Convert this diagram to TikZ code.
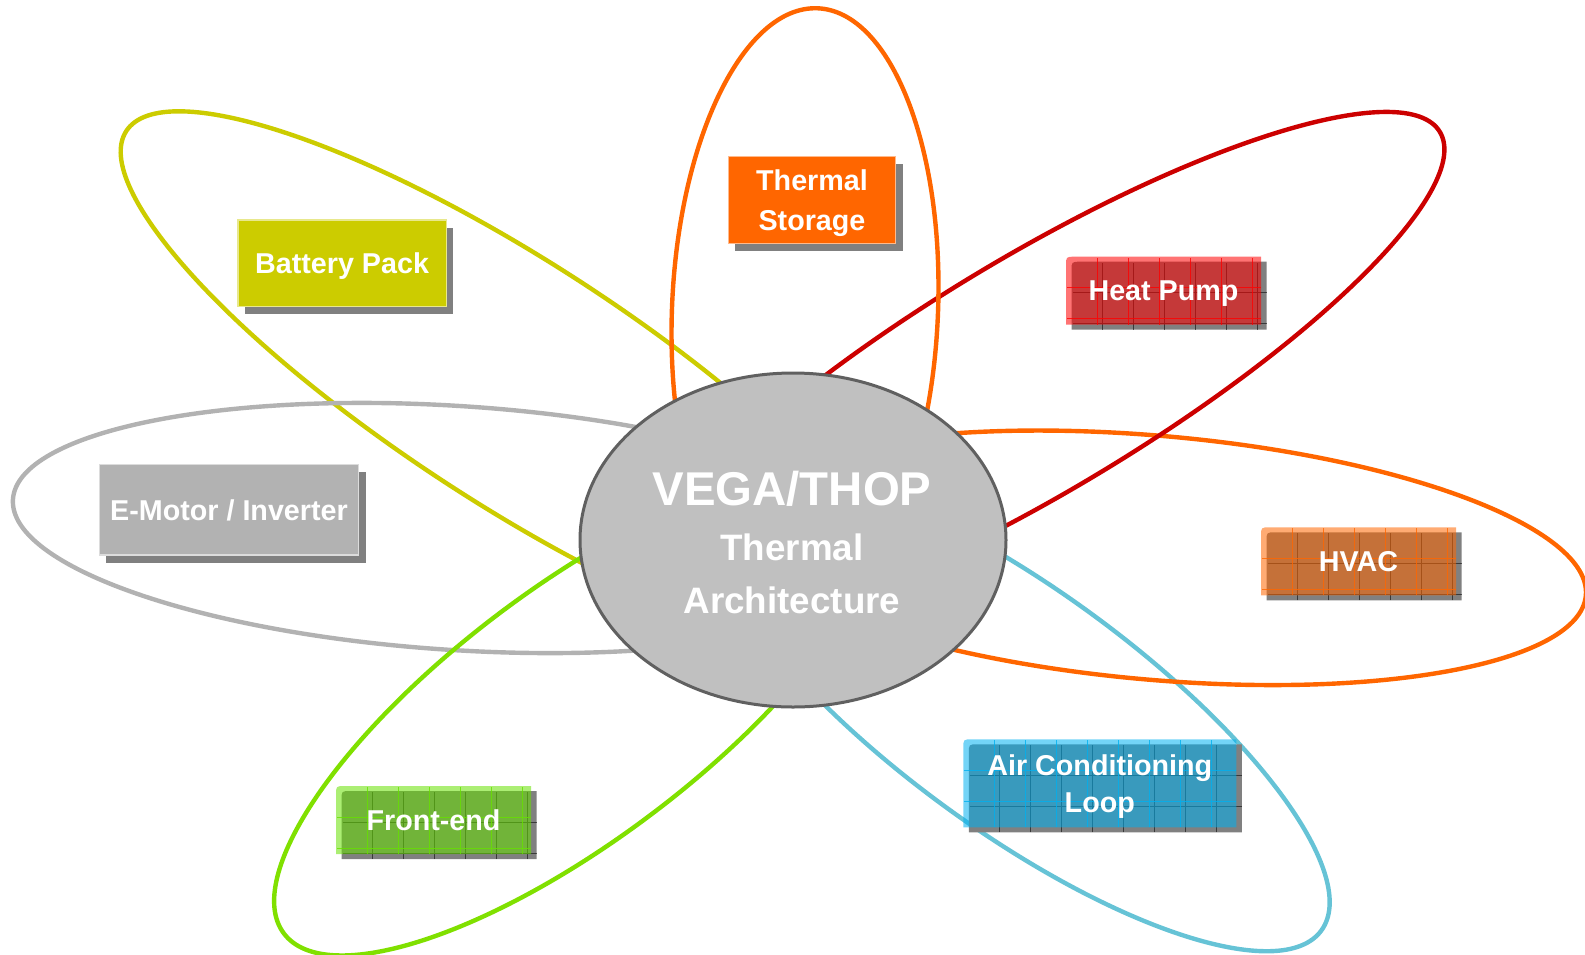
\documentclass[tikz,border=0pt]{standalone}
\usepackage{fontspec}
\newfontfamily\tilesans{Liberation Sans}
\usetikzlibrary{shapes.geometric,shadows}

\definecolor{hubgrey}{HTML}{C0C0C0}
\definecolor{hubrim}{HTML}{606060}
\definecolor{storeorange}{HTML}{FF6600}
\definecolor{batteryolive}{HTML}{CCCC00}
\definecolor{motorgrey}{HTML}{B2B2B2}
\definecolor{pumpred}{HTML}{CC0000}
\definecolor{loopcyan}{HTML}{66C3D6}
\definecolor{frontlime}{HTML}{80E000}
\definecolor{shadowgrey}{HTML}{808080}
% tints laid over the gridded tiles
\definecolor{pumptint}{HTML}{FF0000}
\definecolor{hvactint}{HTML}{FF6600}
\definecolor{looptint}{HTML}{00B0F0}
\definecolor{fronttint}{HTML}{66E000}

\tikzset{
  petal/.style={draw=#1, line width=2.2pt, ellipse, inner sep=0pt, outer sep=0pt},
  hub/.style={ellipse, fill=hubgrey, draw=hubrim, line width=1.5pt,
    minimum width=213pt, minimum height=167pt, inner sep=0pt},
  hubtext/.style={text=white, anchor=base, inner sep=0pt,
    font=\tilesans\bfseries\fontsize{#1}{#1}\selectfont},
  flatbox/.style={fill=#1, draw=#1!45!white, line width=.6pt, text=white,
    align=center, inner sep=0pt, text depth=0pt,
    font=\tilesans\bfseries\fontsize{14.35}{19.6}\selectfont,
    drop shadow={shadow xshift=3.5pt, shadow yshift=-3.75pt, fill=shadowgrey, opacity=1}},
  tileback/.style={fill=shadowgrey},
  backgrid/.style={draw=black, opacity=.55, line width=.5pt, step=15.5pt},
  tilegrid/.style={draw=#1, opacity=.8, line width=.5pt, step=15.5pt},
  tiletext/.style={text=white, align=center, inner sep=0pt, text depth=0pt,
    font=\tilesans\bfseries\fontsize{14.35}{18.65}\selectfont},
}

\begin{document}
\begin{tikzpicture}[x=0.5pt, y=-0.5pt]
    \useasboundingbox (0,0) rectangle (1585,954);

    %Petales autour du centre
    \node[petal=batteryolive, minimum width=463pt, minimum height=121pt, rotate=-33] (batteryloop) at (514.6,383.2) {};
    \node[petal=motorgrey, minimum width=444pt, minimum height=122pt, rotate=-3.7] (motorloop) at (456,528) {};
    \node[petal=frontlime, minimum width=365pt, minimum height=126pt, rotate=37] (frontloop) at (575.4,713.8) {};
    \node[petal=loopcyan, minimum width=375pt, minimum height=121pt, rotate=-36] (acloop) at (1018,710) {};
    \node[petal=storeorange, minimum width=432pt, minimum height=122pt, rotate=-5] (hvacloop) at (1155.5,557.8) {};
    \node[petal=pumpred, minimum width=470pt, minimum height=117pt, rotate=31] (pumploop) at (1037,374) {};
    \node[petal=storeorange, minimum width=133pt, minimum height=302pt, rotate=-2.4] (storeloop) at (805,310) {};

    %Boites pleines
    \node[flatbox=storeorange, minimum width=83.7pt, minimum height=43.3pt] (storage) at (812,200) {Thermal\\Storage};
    \node[flatbox=batteryolive, minimum width=104.1pt, minimum height=43.35pt] (battery) at (342.1,263.4) {Battery Pack};
    \node[flatbox=motorgrey, minimum width=129.7pt, minimum height=45.35pt] (motor) at (229,509.7) {E-Motor / Inverter};

    %Boites quadrillees
    \foreach \tname/\tx/\ty/\tw/\th/\tcol/\ttext in {
        heatpump/1066/256.7/195/68/pumptint/{Heat Pump},
        hvac/1261/527.3/195/68/hvactint/{HVAC},
        aircon/963.3/739.3/273/88/looptint/{Air Conditioning\\Loop},
        frontend/336/786/195/68/fronttint/{Front-end}}
    {
        \begin{scope}[shift={(\tx+5.5,\ty+5)}]
            \fill[tileback] (0,9) .. controls (0,0) .. (9,0) -- (\tw,0) -- (\tw,\th) -- (0,\th) -- cycle;
            \draw[backgrid] (1,\th) grid (\tw,1);
        \end{scope}
        \begin{scope}[shift={(\tx,\ty)}]
            \fill[fill=\tcol, fill opacity=.55] (0,9) .. controls (0,0) .. (9,0) -- (\tw,0) -- (\tw,\th) -- (0,\th) -- cycle;
            \draw[tilegrid=\tcol] (1,\th) grid (\tw,1);
        \end{scope}
        \node[tiletext] (\tname) at ({\tx+\tw/2},{\ty+\th/2}) {\ttext};
    }

    %Centre
    \node[hub] (hub) at (793,540) {};
    \node[hubtext=23.7] (hubname) at (792,505) {VEGA/THOP};
    \node[hubtext=18.4] (hubthermal) at (792,560) {Thermal};
    \node[hubtext=18.4] (hubarch) at (792,613) {Architecture};

\end{tikzpicture}
\end{document}
